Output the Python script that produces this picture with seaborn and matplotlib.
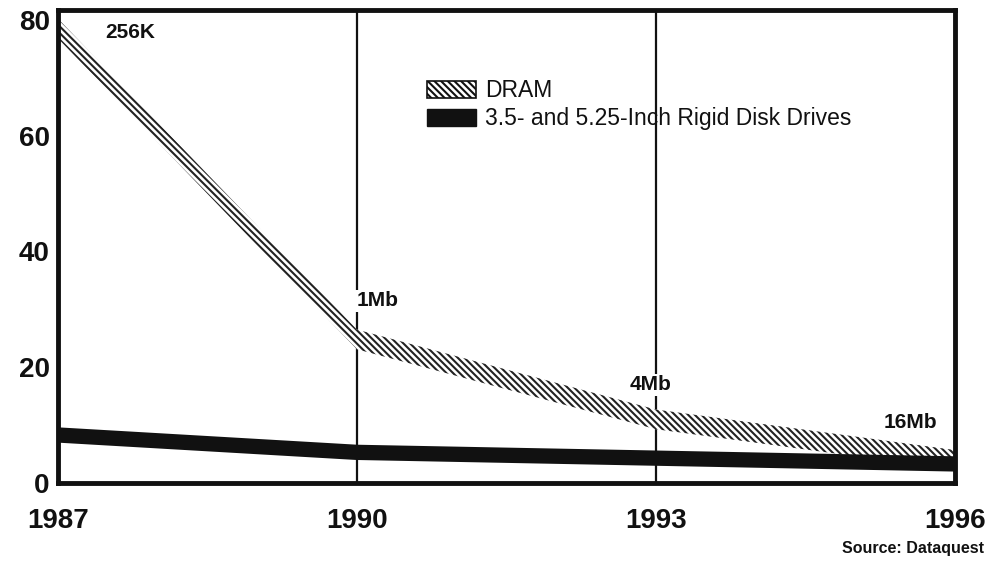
import matplotlib
matplotlib.use("Agg")
import matplotlib.pyplot as plt
import seaborn as sns
import pandas as pd
from matplotlib.patches import Patch

# Price per megabyte trend, 1987-1996
years = [1987, 1990, 1993, 1996]
dram = [78.5, 24.8, 11.0, 4.0]
disk = [8.3, 5.3, 4.3, 3.3]
dram_labels = ["256K", "1Mb", "4Mb", "16Mb"]
label_pos_x = [1987.72, 1990.21, 1992.95, 1995.55]
label_pos_y = [77.8, 31.5, 17.0, 10.5]
x_ticks = [1987, 1990, 1993, 1996]
y_ticks = [0, 20, 40, 60, 80]

sns.set_theme(style="white")
plt.rcParams["font.family"] = ["Liberation Sans", "DejaVu Sans"]
plt.rcParams["hatch.linewidth"] = 1.5

fig = plt.figure(figsize=(9.91, 5.73), dpi=100)
ax = fig.add_axes([0.0585, 0.157, 0.905, 0.8255])

df = pd.DataFrame({"year": years, "dram": dram, "disk": disk})

# DRAM: hatched band around the trend
half = 1.7
hatch = "\\\\\\\\\\"
ax.fill_between(df["year"], df["dram"] - half, df["dram"] + half,
                facecolor="white", edgecolor="#222222", hatch=hatch,
                linewidth=0, zorder=2)

# Rigid disk drives: heavy black band
sns.lineplot(data=df, x="year", y="disk", ax=ax, color="#111111",
             linewidth=11, solid_capstyle="butt", zorder=3)

ax.set_xlim(1987, 1996)
ax.set_ylim(0, 81.7)
ax.set_xticks(x_ticks)
ax.set_yticks(y_ticks)
ax.set_xticklabels([str(t) for t in x_ticks], fontsize=20, fontweight="bold")
ax.set_yticklabels([str(t) for t in y_ticks], fontsize=20, fontweight="bold")
ax.tick_params(axis="x", length=0, pad=18, colors="#111111")
ax.tick_params(axis="y", length=0, pad=6, colors="#111111")
ax.set_xlabel("")
ax.set_ylabel("")

for gx in [1990, 1993]:
    ax.axvline(gx, color="#111111", linewidth=1.6, zorder=1)

for s in ax.spines.values():
    s.set_visible(True)
    s.set_color("#111111")
    s.set_linewidth(3.5)

for txt, lx, ly in zip(dram_labels, label_pos_x, label_pos_y):
    ax.text(lx, ly, txt, fontsize=15, fontweight="bold", ha="center",
            va="center", color="#111111", zorder=5,
            bbox=dict(facecolor="white", edgecolor="none", pad=1) if txt in ("1Mb", "4Mb") else None)

handles = [Patch(facecolor="white", edgecolor="#111111", hatch=hatch, linewidth=1.2),
           Patch(facecolor="#111111", edgecolor="#111111")]
leg = ax.legend(handles, ["DRAM", "3.5- and 5.25-Inch Rigid Disk Drives"],
                loc="upper left", bbox_to_anchor=(0.388, 0.897), frameon=False,
                fontsize=16.5, handlelength=2.15, handleheight=0.8,
                handletextpad=0.4, labelspacing=0.22, labelcolor="#111111")

fig.text(0.993, 0.042, "Source: Dataquest", ha="right", va="center",
         fontsize=11.5, fontweight="bold", color="#111111")

fig.savefig("out.png", dpi=100, facecolor="white")
